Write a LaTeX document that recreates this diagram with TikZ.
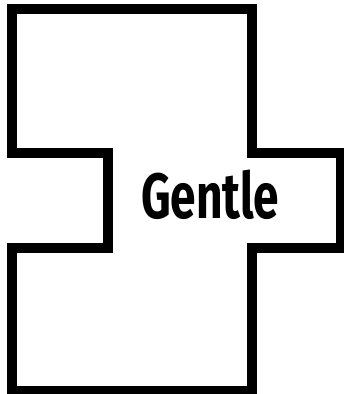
\documentclass[tikz,border=0pt]{standalone}
\usepackage{fontspec}
\setsansfont{Fira Sans}
\usepackage{tikz}
\usetikzlibrary{positioning}

\begin{document}
\begin{tikzpicture}[
    x=1pt, y=-1pt,
    outline/.style={draw=black, line width=10pt, line cap=square, line join=miter},
    label/.style={font=\sffamily\bfseries\fontsize{64}{64}\selectfont, text=black, inner sep=0pt, xscale=0.72}
]
\useasboundingbox (0,0) rectangle (344,394);

% Outline
\coordinate (tl) at (12,9);
\coordinate (tr) at (252,9);
\draw [outline] (tl) -- (tr) -- (252,153) -- (341,153) -- (341,248) -- (252,248)
    -- (252,391) -- (12,391) -- (12,248) -- (107.5,248) -- (107.5,153) -- (12,153) -- cycle;

% Label
\node (gentle) [label, anchor=base] at (210,218) {Gentle};

\end{tikzpicture}
\end{document}
